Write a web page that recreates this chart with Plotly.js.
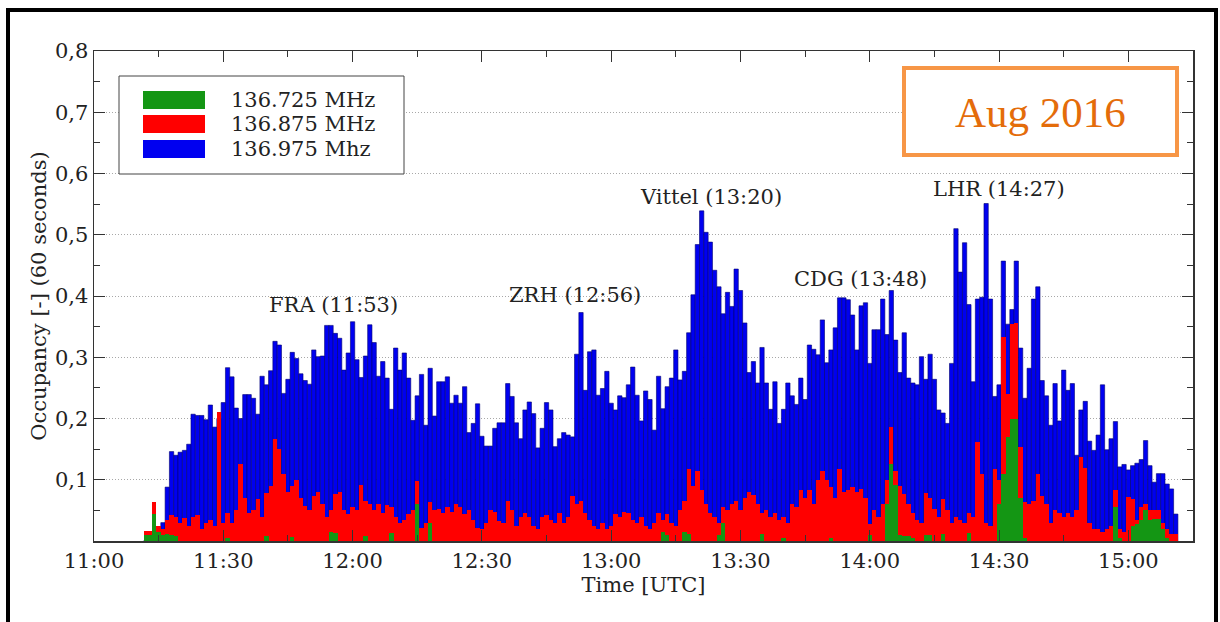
<!DOCTYPE html>
<html>
<head>
<meta charset="utf-8">
<script src="https://cdn.plot.ly/plotly-3.0.1.min.js"></script>
<style>html,body{margin:0;padding:0;background:#fff;}#chart{width:1220px;height:622px;}</style>
</head>
<body>
<div id="chart"></div>
<script>
// ---- data: one bar per minute, first bar at 11:12 UTC ----
const day = '2016-08-01';
const firstMinute = 12; // minutes after 11:00 of the first bar

const seriesNames = ['136.725 MHz', '136.875 MHz', '136.975 Mhz'];
const seriesColors = ['#149614', '#ff0000', '#0000f0'];

const occ136975 = [
0, 0, 0, 0, 0.03, 0.088, 0.146, 0.14, 0.145, 0.148,
0.158, 0.207, 0.205, 0.205, 0.198, 0.222, 0.186, 0.2, 0.226, 0.283,
0.268, 0.217, 0.2, 0.239, 0.239, 0.233, 0.207, 0.269, 0.255, 0.278,
0.326, 0.32, 0.241, 0.264, 0.308, 0.298, 0.273, 0.262, 0.256, 0.312,
0.301, 0.302, 0.352, 0.352, 0.339, 0.331, 0.279, 0.307, 0.358, 0.296,
0.267, 0.302, 0.353, 0.324, 0.269, 0.293, 0.266, 0.215, 0.315, 0.279,
0.307, 0.266, 0.197, 0.237, 0.272, 0.189, 0.282, 0.204, 0.26, 0.26,
0.268, 0.225, 0.238, 0.225, 0.252, 0.177, 0.192, 0.224, 0.171, 0.155,
0.155, 0.184, 0.193, 0.193, 0.257, 0.236, 0.193, 0.167, 0.214, 0.227,
0.208, 0.152, 0.184, 0.226, 0.214, 0.154, 0.167, 0.177, 0.173, 0.17,
0.305, 0.373, 0.246, 0.309, 0.312, 0.238, 0.249, 0.277, 0.225, 0.214,
0.237, 0.234, 0.255, 0.284, 0.238, 0.196, 0.245, 0.231, 0.181, 0.269,
0.216, 0.252, 0.266, 0.312, 0.263, 0.277, 0.34, 0.402, 0.484, 0.539,
0.504, 0.488, 0.442, 0.415, 0.371, 0.406, 0.383, 0.444, 0.409, 0.356,
0.275, 0.293, 0.258, 0.316, 0.258, 0.215, 0.26, 0.192, 0.215, 0.258,
0.237, 0.223, 0.266, 0.231, 0.32, 0.313, 0.304, 0.361, 0.291, 0.312,
0.348, 0.397, 0.397, 0.394, 0.369, 0.312, 0.384, 0.389, 0.29, 0.345,
0.345, 0.395, 0.337, 0.409, 0.328, 0.275, 0.34, 0.266, 0.258, 0.255,
0.301, 0.264, 0.305, 0.264, 0.214, 0.209, 0.192, 0.29, 0.51, 0.439,
0.487, 0.386, 0.26, 0.395, 0.398, 0.551, 0.395, 0.236, 0.255, 0.457,
0.354, 0.378, 0.457, 0.315, 0.233, 0.282, 0.395, 0.415, 0.262, 0.237,
0.189, 0.257, 0.196, 0.279, 0.246, 0.257, 0.14, 0.214, 0.228, 0.163,
0.148, 0.173, 0.255, 0.149, 0.167, 0.195, 0.121, 0.125, 0.116, 0.123,
0.127, 0.133, 0.164, 0.123, 0.096, 0.11, 0.11, 0.093, 0.085, 0.044
];

const occ136875 = [
0.016, 0.016, 0.063, 0.025, 0.02, 0.035, 0.043, 0.04, 0.03, 0.038,
0.025, 0.04, 0.042, 0.02, 0.03, 0.035, 0.025, 0.21, 0.03, 0.046,
0.03, 0.05, 0.125, 0.07, 0.045, 0.05, 0.068, 0.04, 0.079, 0.09,
0.166, 0.15, 0.11, 0.08, 0.09, 0.1, 0.07, 0.057, 0.05, 0.073,
0.08, 0.06, 0.04, 0.05, 0.076, 0.08, 0.05, 0.044, 0.055, 0.05,
0.092, 0.065, 0.06, 0.05, 0.06, 0.045, 0.058, 0.055, 0.04, 0.03,
0.035, 0.044, 0.05, 0.098, 0.022, 0.03, 0.063, 0.05, 0.052, 0.045,
0.055, 0.048, 0.06, 0.055, 0.044, 0.05, 0.035, 0.022, 0.02, 0.03,
0.05, 0.048, 0.033, 0.03, 0.066, 0.05, 0.025, 0.04, 0.045, 0.04,
0.025, 0.02, 0.04, 0.042, 0.035, 0.03, 0.045, 0.03, 0.04, 0.074,
0.06, 0.066, 0.045, 0.035, 0.025, 0.02, 0.03, 0.02, 0.025, 0.044,
0.04, 0.047, 0.045, 0.035, 0.03, 0.04, 0.025, 0.02, 0.03, 0.045,
0.035, 0.044, 0.03, 0.025, 0.05, 0.065, 0.118, 0.09, 0.115, 0.083,
0.06, 0.045, 0.04, 0.03, 0.055, 0.05, 0.06, 0.065, 0.05, 0.07,
0.08, 0.075, 0.06, 0.045, 0.05, 0.04, 0.045, 0.035, 0.04, 0.03,
0.06, 0.055, 0.083, 0.07, 0.083, 0.06, 0.1, 0.115, 0.1, 0.088,
0.07, 0.117, 0.08, 0.083, 0.088, 0.08, 0.085, 0.07, 0.028, 0.05,
0.04, 0.06, 0.1, 0.186, 0.115, 0.09, 0.077, 0.06, 0.045, 0.035,
0.03, 0.079, 0.07, 0.052, 0.04, 0.069, 0.05, 0.03, 0.04, 0.035,
0.03, 0.045, 0.04, 0.162, 0.11, 0.03, 0.025, 0.117, 0.1, 0.333,
0.24, 0.355, 0.356, 0.154, 0.063, 0.06, 0.065, 0.11, 0.074, 0.06,
0.03, 0.05, 0.045, 0.04, 0.045, 0.04, 0.05, 0.137, 0.12, 0.03,
0.02, 0.02, 0.015, 0.02, 0.025, 0.083, 0.02, 0.015, 0.072, 0.068,
0.035, 0.055, 0.06, 0.05, 0.05, 0.05, 0.03, 0.02, 0.011, 0.011
];

const occ136725 = [
0.01, 0.01, 0.044, 0.015, 0.01, 0.012, 0.01, 0.008, 0, 0,
0, 0, 0, 0, 0, 0, 0, 0, 0, 0.005,
0, 0, 0, 0, 0, 0, 0, 0, 0.008, 0,
0, 0, 0, 0, 0.006, 0, 0, 0, 0, 0,
0, 0, 0, 0.015, 0.013, 0, 0, 0, 0, 0,
0, 0.008, 0, 0, 0, 0, 0, 0.013, 0, 0,
0, 0, 0, 0.06, 0, 0, 0.03, 0, 0, 0,
0, 0, 0, 0, 0, 0, 0, 0, 0, 0,
0, 0, 0, 0, 0, 0, 0, 0, 0, 0,
0, 0, 0, 0, 0, 0, 0, 0, 0, 0,
0, 0, 0, 0, 0, 0, 0, 0, 0, 0,
0, 0, 0, 0, 0, 0, 0, 0, 0, 0,
0.015, 0.01, 0, 0, 0, 0.015, 0.012, 0, 0, 0,
0, 0, 0, 0.01, 0.03, 0, 0, 0, 0, 0,
0, 0, 0, 0.012, 0, 0, 0, 0, 0.005, 0,
0, 0, 0, 0, 0, 0, 0, 0, 0, 0.005,
0, 0, 0, 0, 0, 0, 0, 0, 0.01, 0,
0, 0, 0.06, 0.125, 0.092, 0.01, 0.008, 0.008, 0.005, 0,
0, 0.01, 0.01, 0, 0, 0.012, 0, 0, 0, 0,
0, 0.013, 0, 0, 0, 0, 0, 0, 0.06, 0.11,
0.17, 0.2, 0.2, 0.07, 0.005, 0, 0, 0, 0, 0,
0, 0, 0, 0, 0, 0, 0, 0, 0, 0,
0, 0, 0, 0, 0, 0.055, 0.005, 0, 0, 0.024,
0.028, 0.035, 0.05, 0.035, 0.036, 0.036, 0.02, 0.005, 0, 0
];

const yTickVals = [0.1, 0.2, 0.3, 0.4, 0.5, 0.6, 0.7, 0.8];
const eventLabels = ['FRA (11:53)', 'ZRH (12:56)', 'Vittel (13:20)', 'CDG (13:48)', 'LHR (14:27)'];
const eventTimes = ['11:55:30', '12:51:40', '13:23:15', '13:57:50', '14:29:55'];
const eventLevels = [0.385, 0.401, 0.561, 0.427, 0.574];
const badgeText = 'Aug 2016';

// ---- build ----
function pad(n) { return (n < 10 ? '0' : '') + n; }
const times = occ136975.map((_, i) => {
  const m = firstMinute + i;
  return day + ' ' + pad(11 + Math.floor(m / 60)) + ':' + pad(m % 60) + ':00';
});

const FONT = 'DejaVu Serif, serif';
const TXT = '#222222';
const AX = '#333333';

const traces = [
  {type: 'bar', name: seriesNames[2], x: times, y: occ136975, width: 60000,
   marker: {color: seriesColors[2], line: {color: '#00006e', width: 0.6}}},
  {type: 'bar', name: seriesNames[1], x: times, y: occ136875, width: 60000,
   marker: {color: seriesColors[1], line: {width: 0}}},
  {type: 'bar', name: seriesNames[0], x: times, y: occ136725, width: 60000,
   marker: {color: seriesColors[0], line: {width: 0}}}
];

// plot-area geometry helpers (pixels -> paper)
const PL = 94, PR = 1193, PT = 51, PB = 541;
const fx = x => (x - PL) / (PR - PL);
const fy = y => (PB - y) / (PB - PT);

const shapes = [];
const annotations = [];

// outer black frame
shapes.push({type: 'rect', xref: 'paper', yref: 'paper', x0: fx(8), x1: fx(1216), y0: fy(660), y1: fy(10),
  line: {color: '#000', width: 4}, fillcolor: 'rgba(0,0,0,0)', layer: 'above'});

// legend box + swatches + labels
shapes.push({type: 'rect', xref: 'paper', yref: 'paper', x0: fx(119), x1: fx(404), y0: fy(174), y1: fy(76),
  line: {color: '#444', width: 1}, fillcolor: '#ffffff', layer: 'above'});
const legRows = [100, 124, 149];
const legOrder = [0, 1, 2];
legOrder.forEach((s, k) => {
  const cy = legRows[k];
  shapes.push({type: 'rect', xref: 'paper', yref: 'paper', x0: fx(143), x1: fx(205), y0: fy(cy + 9), y1: fy(cy - 9),
    line: {width: 0}, fillcolor: seriesColors[s], layer: 'above'});
  annotations.push({xref: 'paper', yref: 'paper', x: fx(229), y: fy(cy), xanchor: 'left', yanchor: 'middle',
    text: seriesNames[s], showarrow: false, font: {family: FONT, size: 21, color: TXT}});
});

// event labels
eventLabels.forEach((t, i) => {
  annotations.push({xref: 'x', yref: 'y', x: day + ' ' + eventTimes[i], y: eventLevels[i],
    text: t, showarrow: false, xanchor: 'center', yanchor: 'middle',
    font: {family: FONT, size: 21, color: TXT}});
});

// orange badge
shapes.push({type: 'rect', xref: 'paper', yref: 'paper', x0: fx(904), x1: fx(1177), y0: fy(155), y1: fy(68),
  line: {color: '#F79646', width: 4}, fillcolor: '#ffffff', layer: 'above'});
annotations.push({xref: 'paper', yref: 'paper', x: fx(1040), y: fy(112), xanchor: 'center', yanchor: 'middle',
  text: badgeText, showarrow: false, font: {family: 'Liberation Serif, serif', size: 43, color: '#E46C0A'}});

const layout = {
  width: 1220, height: 622,
  margin: {l: PL, r: 1220 - PR, t: PT, b: 622 - PB, pad: 0},
  paper_bgcolor: '#ffffff', plot_bgcolor: '#ffffff',
  barmode: 'overlay', bargap: 0,
  showlegend: false,
  separators: ', ',
  font: {family: FONT, size: 21, color: TXT},
  xaxis: {
    type: 'date',
    range: [day + ' 11:00', day + ' 15:15'],
    tickformat: '%H:%M', tick0: day + ' 11:00', dtick: 1800000,
    ticks: 'inside', ticklen: 11, tickwidth: 1, tickcolor: AX,
    minor: {ticks: 'inside', ticklen: 6, tickcolor: AX, tick0: day + ' 11:00', dtick: 900000, showgrid: false},
    showline: true, linecolor: AX, linewidth: 1.5, mirror: 'allticks',
    showgrid: false, zeroline: false,
    tickfont: {family: FONT, size: 21, color: TXT},
    title: {text: 'Time [UTC]', font: {family: FONT, size: 21, color: TXT}, standoff: 2}
  },
  yaxis: {
    range: [0, 0.8], tickvals: yTickVals, tickformat: '.1f',
    ticks: 'inside', ticklen: 11, tickwidth: 1, tickcolor: AX,
    minor: {ticks: 'inside', ticklen: 6, tickcolor: AX, tick0: 0, dtick: 0.05, showgrid: false},
    showline: true, linecolor: AX, linewidth: 1.5, mirror: 'allticks',
    showgrid: true, gridcolor: '#a8a8a8', griddash: '1px,2px', gridwidth: 1,
    zeroline: false,
    tickfont: {family: FONT, size: 21, color: TXT},
    title: {text: 'Occupancy [-] (60 seconds)', font: {family: FONT, size: 21, color: TXT}, standoff: 2}
  },
  shapes: shapes,
  annotations: annotations
};

Plotly.newPlot('chart', traces, layout, {displayModeBar: false, staticPlot: true});
</script>
</body>
</html>
